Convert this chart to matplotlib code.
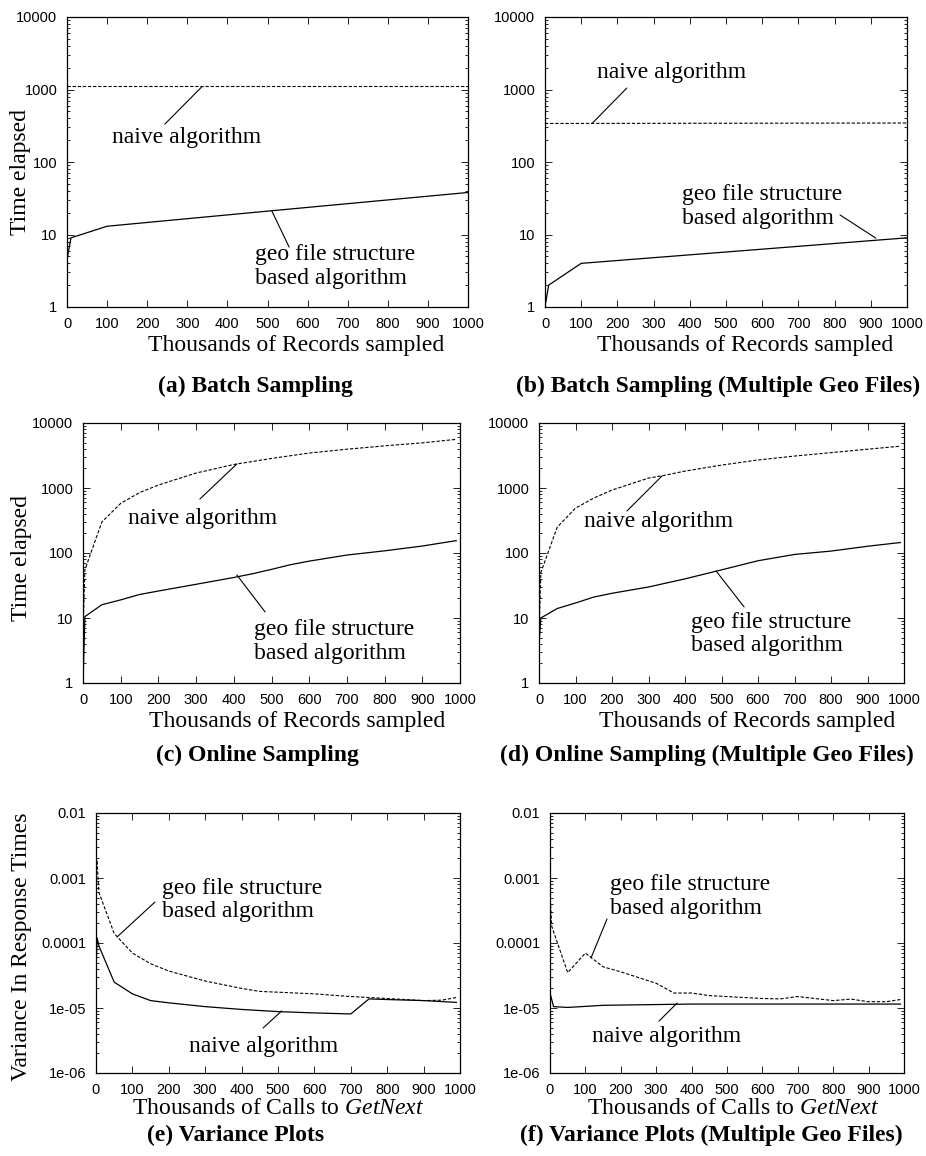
import numpy as np
import matplotlib
matplotlib.use("Agg")
from matplotlib import pyplot as plt
from matplotlib.ticker import LogLocator, NullFormatter

plt.rcParams['font.family'] = ['Liberation Serif', 'DejaVu Serif']
plt.rcParams['mathtext.fontset'] = 'custom'
plt.rcParams['mathtext.rm'] = 'Liberation Serif'
plt.rcParams['mathtext.it'] = 'Liberation Serif:italic'

# (a) batch sampling
a_geo_x = [0, 10, 100, 500, 1000]
a_geo_y = [4.5, 9, 13, 21, 38]
a_naive_x = [0, 1000]
a_naive_y = [1100, 1100]

# (b) batch sampling, multiple geo files
b_geo_x = [0, 10, 100, 1000]
b_geo_y = [1, 2, 4, 9]
b_naive_x = [0, 1000]
b_naive_y = [340, 345]

# (c) online sampling
c_naive_x = [1, 5, 50, 100, 150, 200, 300, 400, 500, 600, 700, 800, 900, 990]
c_naive_y = [10, 55, 300, 580, 850, 1110, 1700, 2300, 2850, 3450, 3950, 4450, 4950, 5600]
c_geo_x = [0, 5, 50, 100, 150, 200, 300, 400, 450, 500, 550, 600, 700, 800, 900, 990]
c_geo_y = [1, 10.5, 16, 19, 23, 26, 33, 42, 48, 56, 66, 75, 93, 108, 128, 155]

# (d) online sampling, multiple geo files
d_naive_x = [1, 5, 50, 100, 150, 200, 300, 340, 400, 500, 600, 700, 800, 900, 990]
d_naive_y = [8, 50, 250, 490, 700, 930, 1420, 1550, 1820, 2250, 2700, 3100, 3500, 3950, 4400]
d_geo_x = [0, 5, 50, 100, 150, 200, 300, 400, 500, 600, 700, 800, 900, 990]
d_geo_y = [4, 10, 14, 17, 21, 24, 30, 40, 55, 76, 95, 107, 127, 145]

# (e) variance plots
e_geo_x = [0, 3, 8, 50, 100, 150, 200, 300, 400, 450, 500, 600, 700, 800, 900, 950, 990]
e_geo_y = [1.5e-3, 1.8e-3, 6e-4, 1.4e-4, 7e-5, 4.8e-5, 3.7e-5, 2.6e-5, 2.0e-5, 1.8e-5,
           1.75e-5, 1.65e-5, 1.5e-5, 1.4e-5, 1.3e-5, 1.32e-5, 1.45e-5]
e_naive_x = [0, 3, 8, 50, 100, 150, 200, 300, 400, 500, 600, 700, 750, 800, 900, 990]
e_naive_y = [4e-5, 1.2e-4, 9e-5, 2.5e-5, 1.65e-5, 1.3e-5, 1.2e-5, 1.05e-5, 9.5e-6, 8.8e-6,
             8.4e-6, 8.1e-6, 1.38e-5, 1.35e-5, 1.3e-5, 1.22e-5]

# (f) variance plots, multiple geo files
f_geo_x = [0, 5, 50, 100, 150, 200, 300, 350, 400, 450, 500, 600, 650, 700, 800, 850, 900, 950, 990]
f_geo_y = [5.5e-4, 1.8e-4, 3.5e-5, 7e-5, 4.3e-5, 3.6e-5, 2.4e-5, 1.7e-5, 1.7e-5, 1.55e-5,
           1.5e-5, 1.4e-5, 1.38e-5, 1.5e-5, 1.3e-5, 1.37e-5, 1.25e-5, 1.25e-5, 1.35e-5]
f_naive_x = [0, 10, 50, 150, 300, 400, 990]
f_naive_y = [1.7e-5, 1.05e-5, 1.02e-5, 1.1e-5, 1.13e-5, 1.15e-5, 1.15e-5]

x_ticks = list(range(0, 1001, 100))
time_ticks = [1, 10, 100, 1000, 10000]
time_labels = ['1', '10', '100', '1000', '10000']
var_ticks = [1e-6, 1e-5, 1e-4, 1e-3, 1e-2]
var_labels = ['1e-06', '1e-05', '0.0001', '0.001', '0.01']

W, H = 926, 1156
fig = plt.figure(figsize=(W / 100, H / 100), dpi=100)

TXT = 17
TICK = 10.5
DASH = (0, (3, 1.6))


def make_axes(l, r, t, b):
    return fig.add_axes([l / W, 1 - b / H, (r - l) / W, (b - t) / H])


def style(ax, yticks, ylabels, ylim):
    ax.set_xlim(0, 1000)
    ax.set_yscale('log')
    ax.set_ylim(*ylim)
    ax.set_xticks(x_ticks)
    ax.set_xticklabels([str(v) for v in x_ticks], family='Liberation Sans', fontsize=TICK)
    ax.set_yticks(yticks)
    ax.set_yticklabels(ylabels, family='Liberation Sans', fontsize=TICK)
    ax.yaxis.set_minor_locator(LogLocator(base=10, subs=range(2, 10), numticks=20))
    ax.yaxis.set_minor_formatter(NullFormatter())
    ax.tick_params(which='both', direction='in', top=True, right=True, width=0.6)
    ax.tick_params(which='major', length=5, pad=7)
    ax.tick_params(which='minor', length=2.5)
    for s in ax.spines.values():
        s.set_linewidth(0.9)


def leader(ax, p0, p1):
    ax.annotate('', xy=p0, xytext=p1,
                arrowprops=dict(arrowstyle='-', lw=0.8, color='black',
                                shrinkA=0, shrinkB=0))


def label(ax, x, y, s):
    ax.text(x, y, s, fontsize=TXT, ha='left', va='center', linespacing=1.15)


geo_txt = 'geo file structure\nbased algorithm'
naive_txt = 'naive algorithm'
tlim = (1, 10000)
vlim = (1e-6, 1e-2)

# (a)
ax = make_axes(67, 468, 17, 307)
ax.plot(a_naive_x, a_naive_y, color='black', lw=0.8, ls=DASH)
ax.plot(a_geo_x, a_geo_y, color='black', lw=0.9)
style(ax, time_ticks, time_labels, tlim)
leader(ax, (337, 1100), (244, 333))
label(ax, 112, 221, naive_txt)
leader(ax, (511, 21), (554, 6.7))
label(ax, 469, 3.6, geo_txt)

# (b)
ax = make_axes(545, 907, 17, 307)
ax.plot(b_naive_x, b_naive_y, color='black', lw=0.8, ls=DASH)
ax.plot(b_geo_x, b_geo_y, color='black', lw=0.9)
style(ax, time_ticks, time_labels, tlim)
leader(ax, (226, 1047), (130, 340))
label(ax, 144, 1690, naive_txt)
leader(ax, (815, 18.6), (914, 8.9))
label(ax, 378, 24.3, geo_txt)

# (c)
ax = make_axes(83, 460, 423, 683)
ax.plot(c_naive_x, c_naive_y, color='black', lw=0.8, ls=DASH)
ax.plot(c_geo_x, c_geo_y, color='black', lw=0.9)
style(ax, time_ticks, time_labels, tlim)
leader(ax, (408, 2340), (310, 676))
label(ax, 119, 345, naive_txt)
leader(ax, (408, 46), (483, 12.4))
label(ax, 454, 4.35, geo_txt)

# (d)
ax = make_axes(539, 904, 423, 683)
ax.plot(d_naive_x, d_naive_y, color='black', lw=0.8, ls=DASH)
ax.plot(d_geo_x, d_geo_y, color='black', lw=0.9)
style(ax, time_ticks, time_labels, tlim)
leader(ax, (337, 1530), (241, 443))
label(ax, 123, 300, naive_txt)
leader(ax, (485, 53), (562, 14.8))
label(ax, 416, 5.7, geo_txt)

# (e)
ax = make_axes(96, 460, 813, 1073)
ax.plot(e_geo_x, e_geo_y, color='black', lw=0.8, ls=DASH)
ax.plot(e_naive_x, e_naive_y, color='black', lw=0.9)
style(ax, var_ticks, var_labels, vlim)
leader(ax, (162, 4.27e-4), (58, 1.24e-4))
label(ax, 181, 4.59e-4, geo_txt)
leader(ax, (510, 9.0e-6), (459, 4.92e-6))
label(ax, 256, 2.6e-6, naive_txt)

# (f)
ax = make_axes(550, 904, 813, 1073)
ax.plot(f_geo_x, f_geo_y, color='black', lw=0.8, ls=DASH)
ax.plot(f_naive_x, f_naive_y, color='black', lw=0.9)
style(ax, var_ticks, var_labels, vlim)
leader(ax, (161, 2.34e-4), (116, 5.9e-5))
label(ax, 169, 5.19e-4, geo_txt)
leader(ax, (359, 1.19e-5), (308, 6.3e-6))
label(ax, 119, 3.58e-6, naive_txt)


def ftext(x, y, s, **kw):
    fig.text(x / W, 1 - y / H, s, ha='center', va='center', **kw)


rec = 'Thousands of Records sampled'
calls = r'Thousands of Calls to $\mathit{GetNext}$'
ftext(296, 345, rec, fontsize=TXT)
ftext(745, 345, rec, fontsize=TXT)
ftext(297, 721, rec, fontsize=TXT)
ftext(747, 721, rec, fontsize=TXT)
ftext(278, 1108, calls, fontsize=TXT)
ftext(733, 1108, calls, fontsize=TXT)

ftext(21, 172, 'Time elapsed', fontsize=TXT, rotation=90)
ftext(22, 558, 'Time elapsed', fontsize=TXT, rotation=90)
ftext(22, 947, 'Variance In Response Times', fontsize=TXT, rotation=90)

ftext(255, 386, '(a) Batch Sampling', fontsize=TXT, fontweight='bold')
ftext(718, 386, '(b) Batch Sampling (Multiple Geo Files)', fontsize=TXT, fontweight='bold')
ftext(257, 755, '(c) Online Sampling', fontsize=TXT, fontweight='bold')
ftext(707, 755, '(d) Online Sampling (Multiple Geo Files)', fontsize=TXT, fontweight='bold')
ftext(236, 1135, '(e) Variance Plots', fontsize=TXT, fontweight='bold')
ftext(711, 1135, '(f) Variance Plots (Multiple Geo Files)', fontsize=TXT, fontweight='bold')

fig.savefig('out.png', dpi=100)
